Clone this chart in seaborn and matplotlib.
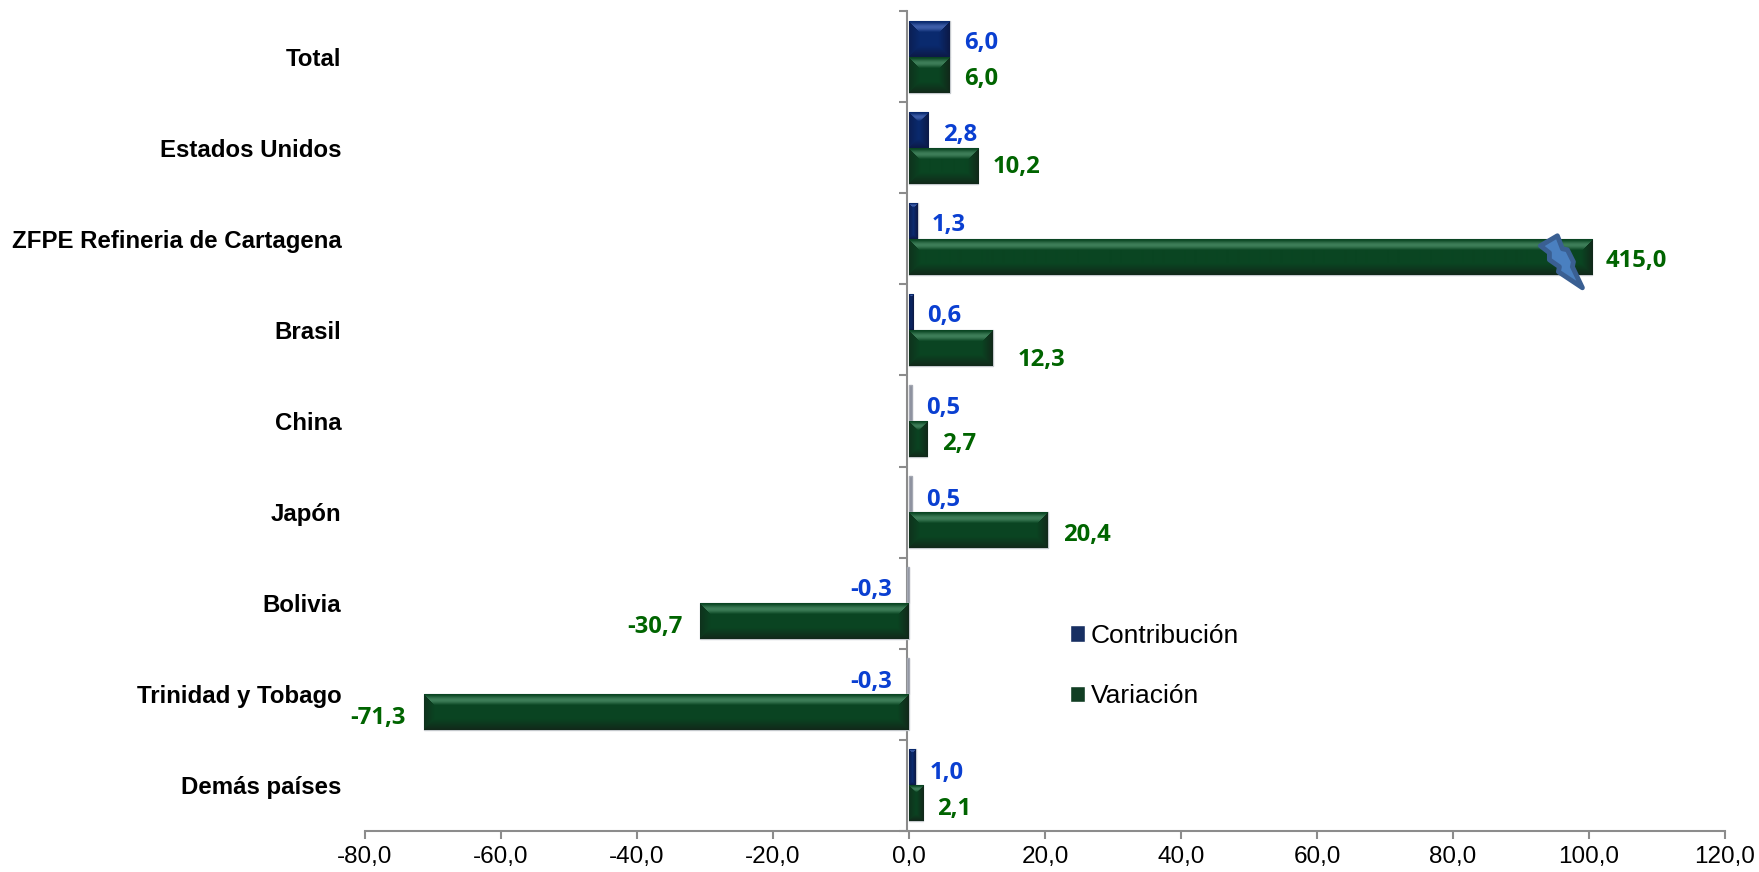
import numpy as np
import pandas as pd
import matplotlib
matplotlib.use("Agg")
import matplotlib.pyplot as plt
import seaborn as sns
from matplotlib.colors import to_rgb
from matplotlib.patches import Polygon

# ---- data ----
paises = ["Total", "Estados Unidos", "ZFPE Refineria de Cartagena", "Brasil", "China",
          "Japón", "Bolivia", "Trinidad y Tobago", "Demás países"]
contribucion = [6.0, 2.8, 1.3, 0.6, 0.5, 0.5, -0.3, -0.3, 1.0]
variacion = [6.0, 10.2, 415.0, 12.3, 2.7, 20.4, -30.7, -71.3, 2.1]
x_ticks = [-80, -60, -40, -20, 0, 20, 40, 60, 80, 100, 120]

# the 415 bar is cut just past 100, the break mark shows it
CORTE = 100.5

# label nudges in px (bar end to label centre, and downwards from bar centre)
DX_CONTRIB = [31, 32, 31, 31, 31, 31, -36, -36, 31]
DX_VARIAC = [31, 38, 44, 49, 32, 39, -45, -46, 31]
DY_CONTRIB = [4, 5, 4, 4, 5, 6, 5, 6, 6]
DY_VARIAC = [4, 1, 4, 12, 5, 5, 6, 6, 6]

AZUL = "#0a2a6e"
VERDE = "#0a4522"
SHADES = {
    "Contribución": (AZUL, "#3d5da8", "#0c1a48"),
    "Variación": (VERDE, "#3d7d58", "#11291a"),
}
TXT_AZUL = "#0a3fd1"
TXT_VERDE = "#006400"
EJE = "#8c8c8c"


def bevel(h, w, base, light, dark, b=11):
    """Pixel array with the Excel style bevel look."""
    base, light, dark = map(lambda c: np.array(to_rgb(c)), (base, light, dark))
    b = max(1, min(b, h // 3, max(w // 2, 1)))
    img = np.tile(base, (h, w, 1))
    for i in range(h):
        for j in range(w):
            top, bot, left, right = i, h - 1 - i, j, w - 1 - j
            d = min(top, bot, left, right)
            if d >= b:
                continue
            t = d / b
            if d == top:
                img[i, j] = base + (light - base) * np.sin(np.pi * t) ** 1.5
            elif d == bot:
                img[i, j] = dark + (base - dark) * t
            elif d == left:
                img[i, j] = dark + (base - dark) * (0.35 + 0.65 * t)
            else:
                img[i, j] = dark + (base - dark) * t
    return img


def coma(v):
    return f"{v:.1f}".replace(".", ",")


def main():
    sns.set_theme(style="white")
    plt.rcParams["font.family"] = ["Liberation Sans", "DejaVu Sans"]

    df = pd.DataFrame({
        "pais": paises * 2,
        "serie": ["Contribución"] * len(paises) + ["Variación"] * len(paises),
        "valor": contribucion + list(np.minimum(variacion, CORTE)),
    })

    fig = plt.figure(figsize=(17.59, 8.72), dpi=100)
    ax = fig.add_axes([365 / 1759, 1 - 831 / 872, (1725 - 365) / 1759, (831 - 11) / 872])

    sns.barplot(
        data=df,
        y="pais",
        x="valor",
        hue="serie",
        order=paises,
        palette={k: v[0] for k, v in SHADES.items()},
        width=0.79,
        gap=0,
        orient="h",
        ax=ax,
    )
    ax.set_xlim(-80, 120)
    ax.set_ylim(len(paises) - 0.5, -0.5)
    ax.set_xlabel("")
    ax.set_ylabel("")

    for side in ["top", "right", "left"]:
        ax.spines[side].set_visible(False)
    ax.spines["bottom"].set_color(EJE)
    ax.spines["bottom"].set_linewidth(1.5)

    ax.set_xticks(x_ticks)
    ax.set_xticklabels([coma(v) for v in x_ticks], fontsize=17.5, color="black")
    ax.tick_params(axis="x", bottom=True, length=6, width=1.5, color=EJE, pad=5)
    ax.tick_params(axis="y", left=False, pad=11)
    for lab in ax.get_yticklabels():
        lab.set_fontsize(17.3)
        lab.set_fontweight("bold")
        lab.set_color("black")

    # vertical axis line crossing at zero, with ticks between the categories
    sec = ax.secondary_yaxis(80 / 200 - 0.0015)
    sec.set_yticks(np.arange(len(paises) + 1) - 0.5)
    sec.set_yticklabels([])
    sec.tick_params(axis="y", length=6, width=1.5, color=EJE)
    sec.spines["left"].set_color(EJE)
    sec.spines["left"].set_linewidth(1.5)
    for side in ["top", "right", "bottom"]:
        sec.spines[side].set_visible(False)

    fig.canvas.draw()
    to_px = ax.transData.transform
    xlim, ylim = ax.get_xlim(), ax.get_ylim()

    series = list(SHADES.keys())
    for cont, serie, dxs, dys, color in zip(
        ax.containers, series, [DX_CONTRIB, DX_VARIAC], [DY_CONTRIB, DY_VARIAC], [TXT_AZUL, TXT_VERDE]
    ):
        valores = contribucion if serie == "Contribución" else variacion
        for patch, val, dx, dy in zip(cont.patches, valores, dxs, dys):
            x0, y0 = patch.get_x(), patch.get_y()
            x1, y1 = x0 + patch.get_width(), y0 + patch.get_height()
            (px0, py0), (px1, py1) = to_px((x0, y0)), to_px((x1, y1))
            w = max(int(round(abs(px1 - px0))), 1)
            h = max(int(round(abs(py1 - py0))), 1)
            patch.set_edgecolor("#c4c8cc")
            patch.set_linewidth(1.0)
            patch.set_zorder(2)
            if abs(val) < 0.55:
                # hair thin bars come out grey in the reference
                patch.set_facecolor("#8a8f9c")
                patch.set_edgecolor("#a4a8b2")
            elif w >= 3:
                img = bevel(h, w, *SHADES[serie])
                ax.imshow(img, extent=[min(x0, x1), max(x0, x1), y1, y0], aspect="auto",
                          interpolation="bilinear", zorder=3)
            else:
                patch.set_facecolor(AZUL)

            end_x = to_px((x1, 0))[0]
            cy = (y0 + y1) / 2
            ax.annotate(
                coma(val),
                xy=(x1, cy),
                xytext=(dx * 0.72, -dy * 0.72),
                textcoords="offset points",
                ha="center",
                va="center",
                fontsize=17.2,
                fontweight="bold",
                family="Open Sans",
                color=color,
                zorder=6,
            )

            # break mark on the cut bar
            if val > CORTE:
                end_y = to_px((0, cy))[1]
                rayo = np.array([
                    (-35, 21), (-52, 11), (-43, 4), (-43, -3), (-33, -10), (-34, -15),
                    (-10, -31), (-20, -10), (-19, -5), (-25, 7), (-30, 8),
                ], dtype=float)
                ax.add_patch(Polygon(
                    rayo + (end_x, end_y),
                    closed=True,
                    transform=None,
                    facecolor="#4a80c0",
                    edgecolor="#3a5f92",
                    linewidth=3.5,
                    joinstyle="round",
                    zorder=7,
                ))

    ax.set_xlim(xlim)
    ax.set_ylim(ylim)

    handles, labels = ax.get_legend_handles_labels()
    leg = ax.legend(
        handles,
        labels,
        loc="upper left",
        bbox_to_anchor=((1070 - 365) / 1360, 1 - (624 - 11) / 820),
        frameon=False,
        fontsize=19,
        handlelength=0.58,
        handleheight=0.58,
        handletextpad=0.2,
        labelspacing=1.38,
        borderaxespad=0,
        borderpad=0,
    )
    for txt in leg.get_texts():
        txt.set_color("black")

    fig.savefig("out.png", dpi=100)
    plt.close(fig)


if __name__ == "__main__":
    main()
